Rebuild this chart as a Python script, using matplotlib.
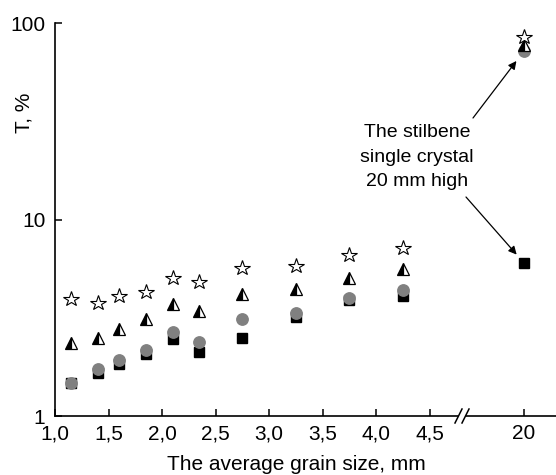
import matplotlib
matplotlib.use("Agg")
import matplotlib.pyplot as plt
from matplotlib.lines import Line2D
from matplotlib.ticker import NullLocator

plt.rcParams["font.family"] = ["Liberation Sans", "DejaVu Sans"]

# --- Data ---------------------------------------------------------------------
grain_size = [1.15, 1.4, 1.6, 1.85, 2.1, 2.35, 2.75, 3.25, 3.75, 4.25]
stars = [3.94, 3.76, 4.08, 4.28, 5.04, 4.81, 5.66, 5.80, 6.60, 7.16]
triangles = [2.35, 2.49, 2.77, 3.12, 3.72, 3.42, 4.18, 4.43, 5.04, 5.60]
circles = [1.47, 1.73, 1.93, 2.17, 2.68, 2.38, 3.12, 3.34, 3.99, 4.38]
squares = [1.47, 1.65, 1.84, 2.07, 2.46, 2.12, 2.49, 3.19, 3.89, 4.08]

crystal_x = [20]
crystal_star = [84.9]
crystal_triangle = [77.3]
crystal_circle = [72.0]
crystal_square = [6.01]

x_ticks = [1.0, 1.5, 2.0, 2.5, 3.0, 3.5, 4.0, 4.5]
x_ticklabels = ["1,0", "1,5", "2,0", "2,5", "3,0", "3,5", "4,0", "4,5"]

# --- Figure -------------------------------------------------------------------
W, H = 556, 475
fig = plt.figure(figsize=(W / 100, H / 100), dpi=100)

def px(x0, y0, x1, y1):
    """axes rect from image pixel box (top-left origin)."""
    return [x0 / W, 1 - y1 / H, (x1 - x0) / W, (y1 - y0) / H]

ax1 = fig.add_axes(px(55, 23, 458, 416))
ax2 = fig.add_axes(px(466, 23, 556, 416), sharey=ax1)

styles = [
    dict(marker="s", ms=7.2, color="black", mec="black", ls="none"),
    dict(marker="o", ms=8.2, color="#808080", mec="#808080", ls="none"),
    dict(marker="^", ms=9.0, ls="none", fillstyle="left", mfc="black",
         mfcalt="white", mec="black", mew=0.9),
    dict(marker="*", ms=11.5, ls="none", mfc="white", mec="black", mew=0.8),
]

left_series = [squares, circles, triangles, stars]
right_series = [crystal_square, crystal_circle, crystal_triangle, crystal_star]

for ys, st in zip(left_series, styles):
    ax1.plot(grain_size, ys, **st)
for ys, st in zip(right_series, styles):
    ax2.plot(crystal_x, ys, **st)

ax1.set_yscale("log")
ax1.set_ylim(1, 100)
ax1.set_yticks([1, 10, 100])
ax1.set_yticklabels(["1", "10", "100"])
ax1.yaxis.set_minor_locator(NullLocator())
ax1.set_xlim(1.0, 1.0 + (458 - 55) / 107)
ax1.set_xticks(x_ticks)
ax1.set_xticklabels(x_ticklabels)

k = 107
ax2.set_xlim(20 - (524 - 466) / k, 20 + (556 - 524) / k)
ax2.set_xticks([20])
ax2.set_xticklabels(["20"])

for ax in (ax1, ax2):
    ax.patch.set_alpha(0)
    for s in ("top", "right"):
        ax.spines[s].set_visible(False)
    for s in ("left", "bottom"):
        ax.spines[s].set_linewidth(1.2)
    ax.tick_params(direction="in", length=5, width=1.1, labelsize=15, pad=6)
    ax.tick_params(axis="y", pad=7)

ax2.spines["left"].set_visible(False)
ax2.tick_params(axis="y", left=False, labelleft=False)
ax2.yaxis.set_minor_locator(NullLocator())

# axis break marks
for x0 in (455, 462):
    fig.add_artist(Line2D([x0 / W, (x0 + 7) / W], [1 - 423 / H, 1 - 409 / H],
                          color="black", lw=1.1, transform=fig.transFigure))

# labels
fig.text(24 / W, 1 - 113 / H, "T, %", rotation=90, ha="center", va="center", fontsize=15)
fig.text(296 / W, 1 - 464 / H, "The average grain size, mm", ha="center", va="center", fontsize=15)

fig.text(417 / W, 1 - 157 / H, "The stilbene\nsingle crystal\n20 mm high",
         ha="center", va="center", fontsize=14, linespacing=1.6)

arrow = dict(arrowstyle="-|>", color="black", lw=0.9, mutation_scale=12, shrinkA=0)
ax2.annotate("", xy=(20, crystal_circle[0]), xytext=(473, H - 118),
             textcoords="figure pixels", arrowprops=dict(arrow, shrinkB=9))
ax2.annotate("", xy=(20, crystal_square[0]), xytext=(466, H - 197),
             textcoords="figure pixels", arrowprops=dict(arrow, shrinkB=8))

fig.savefig("out.png", dpi=100)
